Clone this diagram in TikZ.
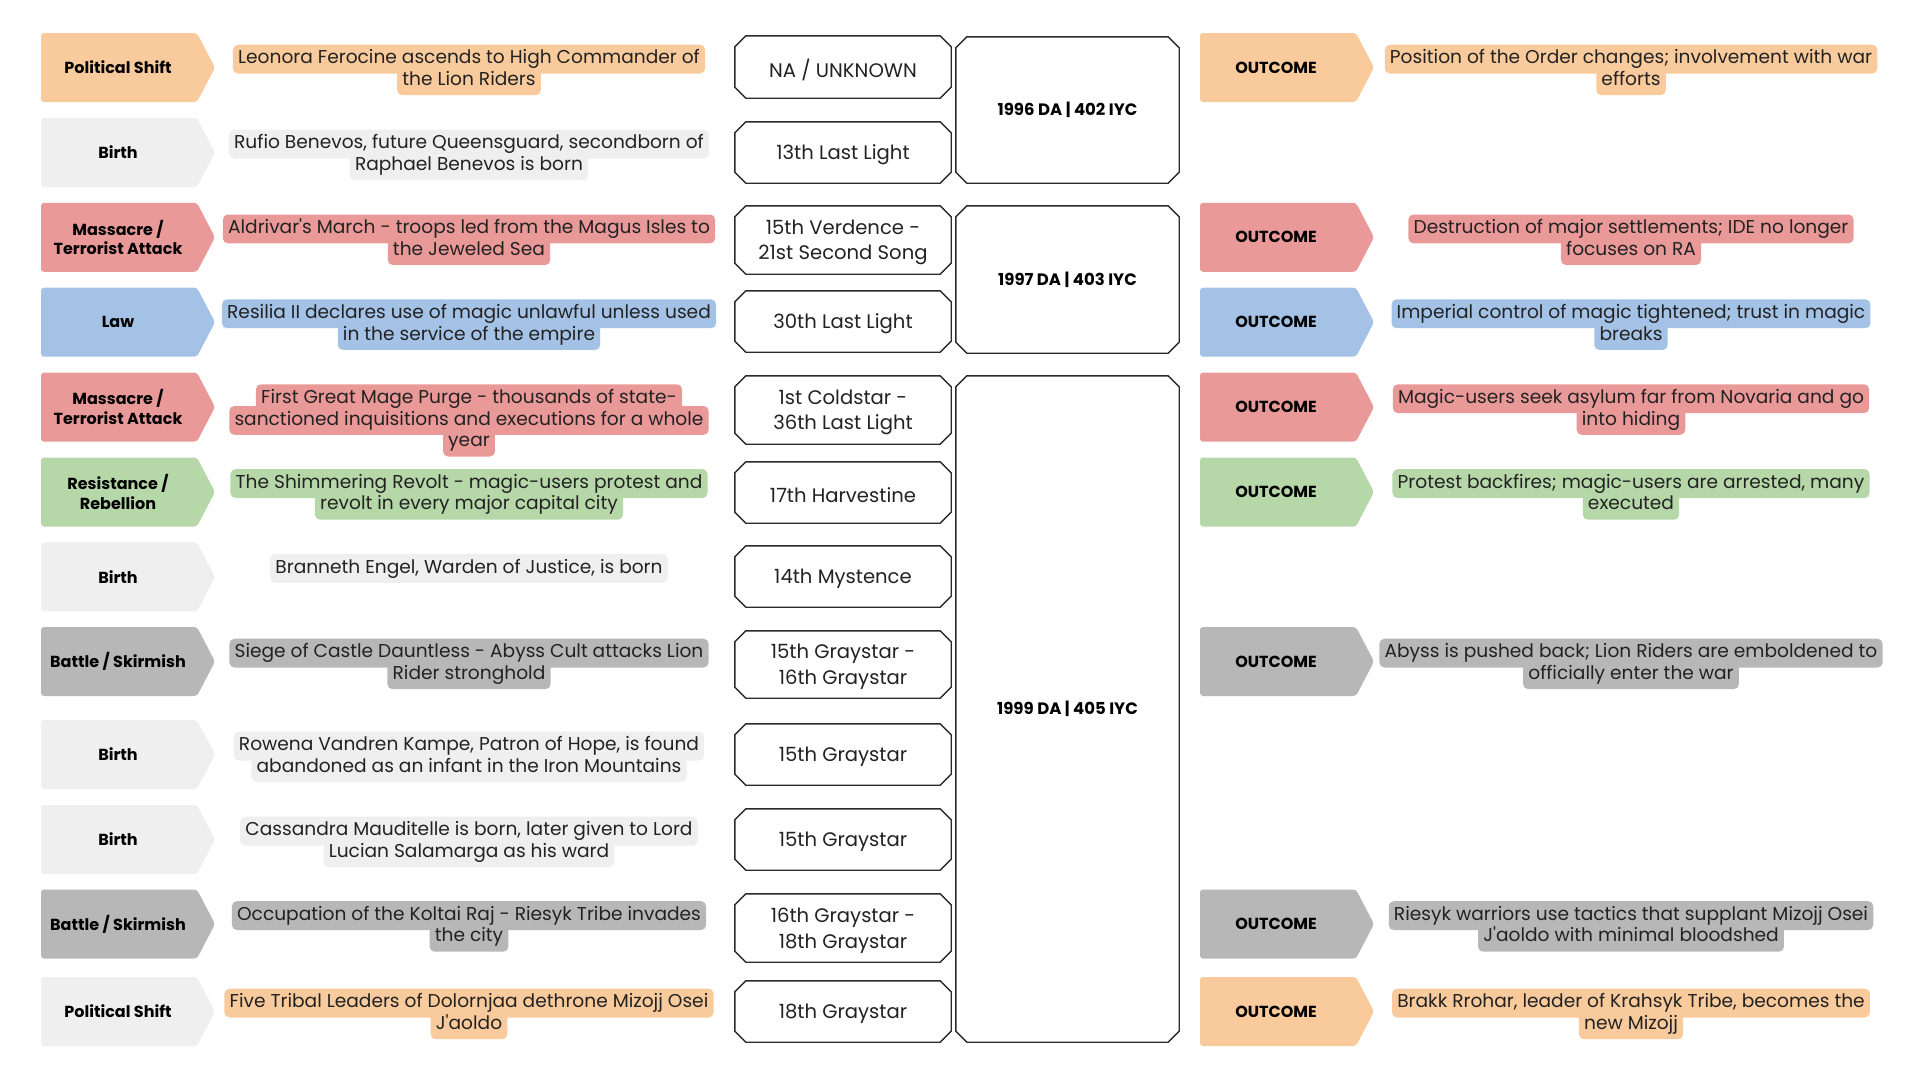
\documentclass[tikz,border=0pt]{standalone}
\usepackage{fontspec}
\setmainfont{Poppins}[Ligatures=TeXOff]
\definecolor{corange}{HTML}{F9CB9C}
\definecolor{clight}{HTML}{EFEFEF}
\definecolor{cred}{HTML}{EA9999}
\definecolor{cblue}{HTML}{A4C2E6}
\definecolor{cgreen}{HTML}{B6D7A8}
\definecolor{cdark}{HTML}{B7B7B7}
\definecolor{txt}{HTML}{222222}
\definecolor{frameline}{HTML}{2A2A2A}
\pgfdeclarelayer{back}
\pgfsetlayers{back,main}
\tikzset{
  every node/.style={font=\fontsize{18.6}{21.7}\selectfont, text=txt},
  hl/.style={inner xsep=5pt, inner ysep=5pt, text height=13.8pt, text depth=4.6pt, anchor=center},
  catlabel/.style={font=\bfseries\fontsize{16}{19.6}\selectfont, align=center, text=black},
  chev/.style={rounded corners=3pt},
  datebox/.style={minimum width=216pt, inner sep=0pt},
  datetext/.style={align=center, inner sep=0pt, font=\fontsize{19.6}{25.7}\selectfont},
  yearbox/.style={align=center, minimum width=223pt, inner sep=0pt, font=\bfseries\fontsize{16.5}{20}\selectfont, text=black},
  frame/.style={draw=frameline, line width=1.4pt, line join=round},
}
\newcommand\chevron[3]{\fill[#3, chev] (#1,#2) -- ++(156,0) -- ++(18,34.5) -- ++(-18,34.5) -- ++(-156,0) -- cycle;}
\newcommand\octagon[1]{\draw[frame] ([xshift=11pt]#1.north west) -- ([xshift=-11pt]#1.north east) -- ([yshift=-11pt]#1.north east) -- ([yshift=11pt]#1.south east) -- ([xshift=-11pt]#1.south east) -- ([xshift=11pt]#1.south west) -- ([yshift=11pt]#1.south west) -- ([yshift=-11pt]#1.north west) -- cycle;}
\newcommand\hltext[5]{%
  \foreach \ln [count=\i] in {#5} {
    \node[hl] (#1-\i) at (#2, #3 + 2.4 + 21.7*\i - 21.7) {\ln};
    \begin{pgfonlayer}{back}
      \fill[#4, rounded corners=5pt] (#1-\i.north west) rectangle (#1-\i.south east);
    \end{pgfonlayer}
  }}
\newcommand\datecell[4]{%
  \node[datebox, minimum height=#3pt] (d#1) at (843,#2) {};
  \node[datetext] (dt#1) at ([yshift=-2.5pt]d#1.center) {#4};
  \octagon{d#1}}
\begin{document}
\begin{tikzpicture}[x=1pt, y=-1pt]
\begin{pgfonlayer}{back}
\fill[white] (0,0) rectangle (1920,1080);
\end{pgfonlayer}
\useasboundingbox (0,0) rectangle (1920,1080);

% ---------- category chevrons ----------
\chevron{41}{33}{corange}
\chevron{41}{118}{clight}
\chevron{41}{202.8}{cred}
\chevron{41}{287.7}{cblue}
\chevron{41}{372.6}{cred}
\chevron{41}{457.5}{cgreen}
\chevron{41}{542.4}{clight}
\chevron{41}{627}{cdark}
\chevron{41}{720}{clight}
\chevron{41}{805}{clight}
\chevron{41}{889.5}{cdark}
\chevron{41}{977}{clight}

\node[catlabel] (c1) at (118,67.5) {Political Shift};
\node[catlabel] (c2) at (118,152.5) {Birth};
\node[catlabel] (c3) at (118,237.3) {Massacre /\\Terrorist Attack};
\node[catlabel] (c4) at (118,322.2) {Law};
\node[catlabel] (c5) at (118,407.1) {Massacre /\\Terrorist Attack};
\node[catlabel] (c6) at (118,492) {Resistance /\\Rebellion};
\node[catlabel] (c7) at (118,576.9) {Birth};
\node[catlabel] (c8) at (118,661.5) {Battle / Skirmish};
\node[catlabel] (c9) at (118,754.5) {Birth};
\node[catlabel] (c10) at (118,839.5) {Birth};
\node[catlabel] (c11) at (118,924) {Battle / Skirmish};
\node[catlabel] (c12) at (118,1011.5) {Political Shift};

% ---------- event texts ----------
\hltext{e1}{469}{56.7}{corange}{{Leonora Ferocine ascends to High Commander of},{the Lion Riders}}
\hltext{e2}{469}{141.7}{clight}{{Rufio Benevos, future Queensguard, secondborn of},{Raphael Benevos is born}}
\hltext{e3}{469}{226.5}{cred}{{Aldrivar's March - troops led from the Magus Isles to},{the Jeweled Sea}}
\hltext{e4}{469}{311.4}{cblue}{{Resilia II declares use of magic unlawful unless used},{in the service of the empire}}
\hltext{e5}{469}{396.3}{cred}{{First Great Mage Purge - thousands of state-},{sanctioned inquisitions and executions for a whole},{year}}
\hltext{e6}{469}{481.2}{cgreen}{{The Shimmering Revolt - magic-users protest and},{revolt in every major capital city}}
\hltext{e7}{469}{566.1}{clight}{{Branneth Engel, Warden of Justice, is born}}
\hltext{e8}{469}{650.7}{cdark}{{Siege of Castle Dauntless - Abyss Cult attacks Lion},{Rider stronghold}}
\hltext{e9}{469}{743.7}{clight}{{Rowena Vandren Kampe, Patron of Hope, is found},{abandoned as an infant in the Iron Mountains}}
\hltext{e10}{469}{828.7}{clight}{{Cassandra Mauditelle is born, later given to Lord},{Lucian Salamarga as his ward}}
\hltext{e11}{469}{913.2}{cdark}{{Occupation of the Koltai Raj - Riesyk Tribe invades},{the city}}
\hltext{e12}{469}{1000.7}{corange}{{Five Tribal Leaders of Dolornjaa dethrone Mizojj Osei},{J'aoldo}}

% ---------- date boxes ----------
\datecell{1}{67}{62}{NA / UNKNOWN}
\datecell{2}{152.5}{61}{13th Last Light}
\datecell{3}{240}{68}{15th Verdence -\\21st Second Song}
\datecell{4}{321.5}{61}{30th Last Light}
\datecell{5}{410}{68}{1st Coldstar -\\36th Last Light}
\datecell{6}{492.5}{61}{17th Harvestine}
\datecell{7}{576.5}{61}{14th Mystence}
\datecell{8}{664.5}{67}{15th Graystar -\\16th Graystar}
\datecell{9}{754.5}{61}{15th Graystar}
\datecell{10}{839.5}{61}{15th Graystar}
\datecell{11}{928}{68}{16th Graystar -\\18th Graystar}
\datecell{12}{1011.5}{61}{18th Graystar}

% ---------- year boxes ----------
\node[yearbox, minimum height=146pt] (y1) at (1067.5,110) {1996 DA | 402 IYC};
\node[yearbox, minimum height=147pt] (y2) at (1067.5,279.5) {1997 DA | 403 IYC};
\node[yearbox, minimum height=666pt] (y3) at (1067.5,709) {1999 DA | 405 IYC};
\foreach \k in {1,2,3} {\octagon{y\k}}

% ---------- outcome chevrons ----------
\chevron{1200}{33}{corange}
\chevron{1200}{202.8}{cred}
\chevron{1200}{287.7}{cblue}
\chevron{1200}{372.6}{cred}
\chevron{1200}{457.5}{cgreen}
\chevron{1200}{627}{cdark}
\chevron{1200}{889.5}{cdark}
\chevron{1200}{977}{corange}

\node[catlabel] (o1) at (1276,67.5) {OUTCOME};
\node[catlabel] (o3) at (1276,237.3) {OUTCOME};
\node[catlabel] (o4) at (1276,322.2) {OUTCOME};
\node[catlabel] (o5) at (1276,407.1) {OUTCOME};
\node[catlabel] (o6) at (1276,492) {OUTCOME};
\node[catlabel] (o8) at (1276,661.5) {OUTCOME};
\node[catlabel] (o11) at (1276,924) {OUTCOME};
\node[catlabel] (o12) at (1276,1011.5) {OUTCOME};

% ---------- outcome texts ----------
\hltext{r1}{1631}{56.7}{corange}{{Position of the Order changes; involvement with war},{efforts}}
\hltext{r3}{1631}{226.5}{cred}{{Destruction of major settlements; IDE no longer},{focuses on RA}}
\hltext{r4}{1631}{311.4}{cblue}{{Imperial control of magic tightened; trust in magic},{breaks}}
\hltext{r5}{1631}{396.3}{cred}{{Magic-users seek asylum far from Novaria and go},{into hiding}}
\hltext{r6}{1631}{481.2}{cgreen}{{Protest backfires; magic-users are arrested, many},{executed}}
\hltext{r8}{1631}{650.7}{cdark}{{Abyss is pushed back; Lion Riders are emboldened to},{officially enter the war}}
\hltext{r11}{1631}{913.2}{cdark}{{Riesyk warriors use tactics that supplant Mizojj Osei},{J'aoldo with minimal bloodshed}}
\hltext{r12}{1631}{1000.7}{corange}{{Brakk Rrohar, leader of Krahsyk Tribe, becomes the},{new Mizojj}}
\end{tikzpicture}
\end{document}
